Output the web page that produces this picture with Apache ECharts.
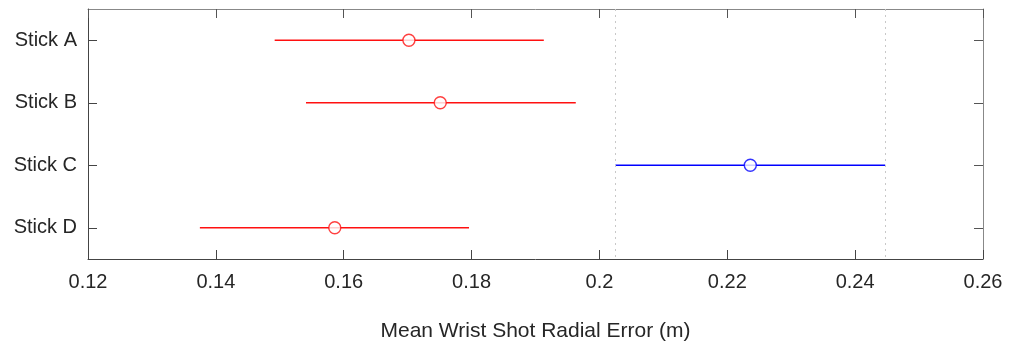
<!DOCTYPE html>
<html>
<head>
<meta charset="utf-8">
<script src="https://cdn.jsdelivr.net/npm/echarts@6/dist/echarts.min.js"></script>
<style>
html,body{margin:0;padding:0;background:#fff;overflow:hidden;}
#c{width:1014px;height:347px;}
</style>
</head>
<body>
<div id="c"></div>
<script>
// ---- data ----
const categories = ['Stick A', 'Stick B', 'Stick C', 'Stick D'];
const means = [0.1702, 0.1751, 0.2236, 0.1586];
const lows  = [0.1492, 0.1541, 0.2025, 0.1375];
const highs = [0.1913, 0.1963, 0.2447, 0.1796];
const groups = ['other', 'other', 'best', 'other'];
const xTicks = [0.12, 0.14, 0.16, 0.18, 0.2, 0.22, 0.24, 0.26];
const xTitle = 'Mean Wrist Shot Radial Error (m)';
const refIndex = 2; // group whose interval is marked by dotted lines

const groupColor = { other: '#ff1010', best: '#0000ff' };
const font = 'Liberation Sans, Arial, Helvetica, sans-serif';
const textColor = '#262626';

const chart = echarts.init(document.getElementById('c'), null, { renderer: 'canvas' });

const xMin = xTicks[0], xMax = xTicks[xTicks.length - 1];
const xInterval = +(xTicks[1] - xTicks[0]).toFixed(4);

// one line series per interval (error bar)
const barSeries = categories.map((c, i) => ({
  type: 'line',
  name: c + ' interval',
  xAxisIndex: 0, yAxisIndex: 0,
  data: [[lows[i], c], [highs[i], c]],
  showSymbol: false, symbol: 'none',
  silent: true,
  lineStyle: { color: groupColor[groups[i]], width: 1.3 },
  itemStyle: { color: groupColor[groups[i]] },
  z: 2
}));

const pointData = categories.map((c, i) => ({
  value: [means[i], c],
  itemStyle: { borderColor: groupColor[groups[i]], color: '#fff' }
}));

chart.setOption({
  animation: false,
  grid: { left: 88, top: 9, width: 895, height: 254, containLabel: false },
  xAxis: [
    {
      type: 'value', position: 'bottom', min: xMin, max: xMax, interval: xInterval,
      axisLine: { show: true, lineStyle: { color: '#444', width: 1 } },
      axisTick: { show: true, inside: true, length: 9, lineStyle: { color: '#444' } },
      splitLine: { show: false },
      axisLabel: {
        margin: 13, fontSize: 20, fontFamily: font, color: textColor,
        formatter: v => String(parseFloat(v.toFixed(2)))
      },
      name: xTitle, nameLocation: 'middle', nameGap: 62,
      nameTextStyle: { fontSize: 21, fontFamily: font, color: textColor }
    },
    {
      type: 'value', position: 'top', min: xMin, max: xMax, interval: xInterval,
      axisLine: { show: true, lineStyle: { color: '#888', width: 1 } },
      axisTick: { show: true, inside: true, length: 9, lineStyle: { color: '#555' } },
      splitLine: { show: false },
      axisLabel: { show: false }
    }
  ],
  yAxis: [
    {
      type: 'category', data: categories, inverse: true, position: 'left',
      boundaryGap: true,
      axisLine: { show: true, lineStyle: { color: '#444', width: 1 } },
      axisTick: { show: true, inside: true, alignWithLabel: true, length: 9, lineStyle: { color: '#444' } },
      axisLabel: { margin: 11, fontSize: 20, fontFamily: font, color: textColor },
      splitLine: { show: false }
    },
    {
      type: 'category', data: categories, inverse: true, position: 'right',
      boundaryGap: true,
      axisLine: { show: true, lineStyle: { color: '#888', width: 1 } },
      axisTick: { show: true, inside: true, alignWithLabel: true, length: 9, lineStyle: { color: '#555' } },
      axisLabel: { show: false },
      splitLine: { show: false }
    }
  ],
  series: barSeries.concat([
    {
      type: 'scatter',
      name: 'mean',
      xAxisIndex: 0, yAxisIndex: 0,
      symbol: 'circle', symbolSize: 12,
      itemStyle: { borderWidth: 1.4 },
      data: pointData,
      silent: true,
      z: 3,
      markLine: {
        silent: true, symbol: 'none', label: { show: false }, precision: 6,
        lineStyle: { type: [2, 4], color: '#c8c8c8', width: 1 },
        data: [{ xAxis: lows[refIndex] }, { xAxis: highs[refIndex] }]
      }
    }
  ])
});
</script>
</body>
</html>
